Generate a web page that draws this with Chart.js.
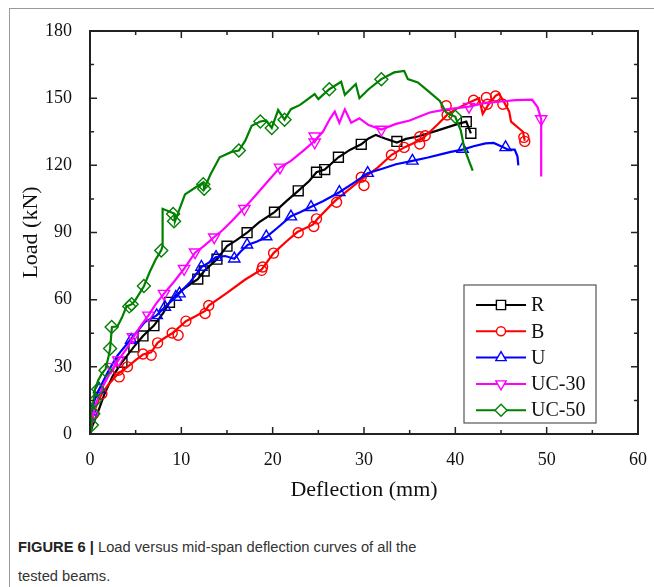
<!DOCTYPE html>
<html>
<head>
<meta charset="utf-8">
<script src="https://cdn.jsdelivr.net/npm/chart.js@4.4.0/dist/chart.umd.min.js"></script>
<style>
  body { margin: 0; background: #fff; }
  #page { position: relative; width: 654px; height: 587px; overflow: hidden; }
  #frame { position: absolute; left: 9px; top: 8px; width: 660px; height: 600px; border-top: 1px solid #999; border-left: 1px solid #999; }
  #wrap { position: absolute; left: 0; top: 0; }
  #caption { position: absolute; left: 18px; top: 533px; font-family: "Liberation Sans", Arial, sans-serif; font-size: 14.7px; line-height: 29px; color: #333; }
  #caption b { color: #222; }
</style>
</head>
<body>
<div id="page">
  <div id="frame"></div>
  <div id="wrap"><canvas id="loadChart" width="654" height="520"></canvas></div>
  <div id="caption"><b>FIGURE 6 |</b> Load versus mid-span deflection curves of all the<br>tested beams.</div>
</div>
<script>
// series names (legend order)
const seriesNames = ['R', 'B', 'U', 'UC-30', 'UC-50'];

// deflection (mm), load (kN)
const rLine = [[0,0],[0.3,4],[0.8,9],[1.6,18],[2.5,26],[3.5,32],[4.8,38.9],[5.8,43.8],[7.0,48.4],[8.0,54],[8.7,58.8],[10.0,64],[11.0,67],[11.8,69.2],[12.5,72.8],[13.9,78.1],[15.0,83.9],[16.0,86.5],[17.2,89.9],[18.5,94.5],[20.2,99.1],[21.5,104],[22.8,108.6],[24.0,113],[24.8,116.9],[25.7,118.1],[27.2,123.6],[28.5,127],[29.7,129.4],[30.5,132],[31.3,133.6],[32.3,132],[33.6,130.2],[34.6,131.8],[36,133],[38,135.5],[40.3,138.5],[41.2,139.5],[41.7,134.3]];
const rMarks = [[3.5,32],[4.8,38.9],[5.8,43.8],[7.0,48.4],[8.7,58.8],[11.8,69.2],[12.5,72.8],[13.9,78.1],[15.0,83.9],[17.2,89.9],[20.2,99.1],[22.8,108.6],[24.8,116.9],[25.7,118.1],[27.2,123.6],[29.7,129.4],[33.6,130.7],[41.2,139.5],[41.7,134.3]];

const bLine = [[0,0],[0.2,5],[0.4,9],[0.8,14],[1.3,18],[2,22],[3.1,27],[4.1,30],[5,33],[5.8,35.5],[6.7,36.5],[7.4,40.7],[8.2,43],[9,45],[10.5,50.4],[11.5,52.5],[12.6,55],[13,57.4],[15,63],[17,69],[18.8,73.5],[20.1,80.8],[21.5,86],[22.7,90.2],[24.4,93.5],[24.9,96],[26.8,104],[28,108],[29.5,113],[30,114.5],[31.5,119],[33,124.6],[34.4,128],[36,131],[36.7,133],[38,138],[39.1,142.5],[40,145],[41,147],[42,149],[42.6,150],[43,143],[43.6,147],[44.4,151],[44.8,152],[45.5,147],[45.9,144],[46.1,139.5],[47.4,135],[47.6,131]];
const bMarks = [[0.4,9],[1.3,18],[3.1,28.5],[3.2,25.5],[4.1,30],[5.8,35.7],[6.7,35.2],[7.4,40.7],[9.0,45.1],[9.65,44.1],[10.5,50.4],[12.6,53.8],[13.0,57.4],[18.8,73.1],[18.9,74.6],[20.1,80.8],[22.8,89.9],[24.5,92.7],[24.8,96.1],[27.0,103.5],[29.7,114.7],[30.0,111],[33.0,124.6],[34.4,128],[36.1,129.5],[36.1,132.8],[36.7,133.2],[39.1,142.5],[39.0,146.6],[42.0,149.1],[43.4,150.3],[43.5,147.3],[44.4,151],[45.2,147.3],[47.5,132.5],[47.6,130.7]];

const uLine = [[0,0],[0.1,5],[0.2,10],[0.5,15],[1,20],[2,28],[3,35],[4,40],[5,45],[6,50],[7.3,53],[8.2,56.7],[9.4,61.2],[9.8,63],[11,68],[12.2,74.6],[13,76.5],[13.8,79],[14.8,79.5],[15.8,78.3],[16.5,81.5],[17.3,84.5],[18.3,86],[19.3,88],[20.5,92],[22,97.3],[23,99],[24.1,101.3],[25.5,104],[27.3,108],[29,112.5],[30.4,116.5],[32,118.5],[33.5,120.5],[35.3,122],[37,123.5],[38.5,125],[39.5,126],[40.8,127],[42,128.5],[43.3,129.8],[44.2,130],[45,128.5],[45.8,127],[46.5,127],[46.8,124],[46.9,120]];
const uMarks = [[0.2,10],[1.0,20],[4.5,42],[7.3,53],[8.2,56.7],[9.4,61.2],[9.8,62.7],[12.2,74.6],[13.8,79],[15.8,78.3],[17.2,84.5],[19.3,88.2],[22.0,97.1],[24.2,101.3],[27.3,108],[30.4,116.5],[35.3,122],[40.8,127.3],[45.5,128]];

const uc30Line = [[0,0],[0.3,8],[0.7,14],[1.5,22],[2.3,28],[3.1,33],[4,38],[4.7,43],[5.5,48],[6.4,53],[7.2,58],[8.1,62.7],[9.2,68],[10.3,73.8],[11.5,81],[12.5,84],[13.6,88],[14.5,91],[15.5,95],[16.9,101],[18,106],[19.5,113],[20.8,119],[22,122],[23.5,127],[24.6,131],[25.5,135],[26.3,141],[26.8,144],[27.3,139],[27.9,145],[28.6,139],[29.5,141],[30.5,138],[31.9,136],[33.5,138.5],[35,140],[37.2,143.6],[39,145],[41.5,146.2],[43,147.7],[45,148.5],[46.6,149.1],[48.4,149.3],[49.0,146],[49.4,140.7],[49.4,115]];
const uc30Marks = [[0.3,8],[2.3,30],[3.1,33],[4.7,43.4],[6.4,53],[8.1,62.7],[10.3,73.8],[11.5,81.2],[13.6,87.9],[16.9,100.6],[20.8,119.1],[24.6,130.3],[24.6,133],[31.9,136],[41.5,146.2],[49.4,140.7]];

const uc50Line = [[0,0],[0.2,4],[0.1,9],[0.4,15],[0.55,20],[0.9,24],[1.3,27],[1.7,29],[2.0,34],[2.2,38],[2.4,47.8],[3.0,48],[3.5,52],[4.0,57],[4.6,58],[5.0,60],[5.9,66],[6.5,72],[7.2,78],[7.8,82],[7.95,84],[7.95,100.6],[9.2,98.5],[9.3,95],[10.4,107],[11.5,110],[12.4,112.4],[12.5,109.5],[13.2,116],[14.2,123.6],[15.5,126],[16.3,126.6],[17.0,131],[17.7,137.7],[18.65,139.6],[19.3,140],[19.9,136.7],[20.6,144.7],[21.3,140.4],[22.0,145.1],[23,147],[24.6,151.8],[25,149.6],[26.2,154],[27.5,157.3],[27.9,151.5],[29.1,156.3],[29.5,150],[30.5,154],[31.9,158.5],[33.3,161.5],[34.4,162.2],[34.8,158.5],[35.9,157],[37.2,152.6],[38.3,148.8],[39,143.6],[40,141.7],[40.6,135.5],[41,127.3],[41.9,117.6]];
const uc50Marks = [[0.2,4],[0.36,9],[0.55,15],[0.9,20],[1.7,28.5],[2.2,38.2],[2.37,47.8],[4.3,57],[4.56,58],[5.9,66.1],[7.8,82],[9.1,98.3],[9.2,95],[12.4,111.5],[12.5,109.5],[16.3,126.6],[18.65,139.6],[19.9,136.7],[21.3,140.4],[26.2,154],[31.9,158.5],[40.0,141.7]];

const xTicks = [0, 10, 20, 30, 40, 50, 60];
const yTicks = [0, 30, 60, 90, 120, 150, 180];

const lines = [rLine, bLine, uLine, uc30Line, uc50Line];
const marks = [rMarks, bMarks, uMarks, uc30Marks, uc50Marks];
const colors = ['#000000', '#ff0000', '#0000ff', '#ff00ff', '#008000'];
const shapes = ['rect', 'circle', 'triangle', 'triangle', 'rectRot'];
const rotations = [0, 0, 0, 180, 0];
const radii = [7, 5, 6.5, 6.5, 6.5];

const toXY = arr => arr.map(p => ({ x: p[0], y: p[1] }));

const datasets = [];
seriesNames.forEach((name, i) => {
    datasets.push({
        label: name,
        data: toXY(lines[i]),
        showLine: true,
        borderColor: colors[i],
        borderWidth: 2.2,
        pointRadius: 0,
        tension: 0,
        order: 20 - i * 2
    });
    datasets.push({
        label: name + ' marks',
        data: toXY(marks[i]),
        showLine: false,
        borderColor: colors[i],
        backgroundColor: 'rgba(255,255,255,0)',
        borderWidth: 1.4,
        pointStyle: shapes[i],
        rotation: rotations[i],
        pointRadius: radii[i],
        order: 19 - i * 2
    });
});

// frame with inward ticks on all four sides
const framePlugin = {
    id: 'frame',
    afterDatasetsDraw(chart) {
        const { ctx, chartArea: a, scales } = chart;
        ctx.save();
        ctx.strokeStyle = '#222';
        ctx.lineWidth = 2;
        ctx.strokeRect(a.left, a.top, a.right - a.left, a.bottom - a.top);
        ctx.lineWidth = 1.5;
        ctx.beginPath();
        for (let v = 0; v <= 60; v += 5) {
            const px = scales.x.getPixelForValue(v);
            const len = v % 10 === 0 ? 7 : 4;
            ctx.moveTo(px, a.bottom); ctx.lineTo(px, a.bottom - len);
            ctx.moveTo(px, a.top); ctx.lineTo(px, a.top + len);
        }
        for (let v = 0; v <= 180; v += 15) {
            const py = scales.y.getPixelForValue(v);
            const len = v % 30 === 0 ? 7 : 4;
            ctx.moveTo(a.left, py); ctx.lineTo(a.left + len, py);
            ctx.moveTo(a.right, py); ctx.lineTo(a.right - len, py);
        }
        ctx.stroke();

        // legend box
        const bx = 464, by = 285, bw = 132, bh = 138;
        ctx.fillStyle = '#fff';
        ctx.fillRect(bx, by, bw, bh);
        ctx.strokeStyle = '#555';
        ctx.lineWidth = 1.2;
        ctx.strokeRect(bx, by, bw, bh);
        ctx.font = '20px "Liberation Serif", "Times New Roman", serif';
        ctx.textBaseline = 'middle';
        seriesNames.forEach((name, i) => {
            const y = by + 20 + i * 26.3;
            ctx.strokeStyle = colors[i];
            ctx.lineWidth = 2;
            ctx.beginPath();
            ctx.moveTo(476, y); ctx.lineTo(526, y);
            ctx.stroke();
            ctx.fillStyle = '#fff';
            ctx.lineWidth = 1.4;
            Chart.helpers.drawPoint(ctx, { pointStyle: shapes[i], rotation: rotations[i], radius: radii[i] - 0.5, borderWidth: 1.4 }, 501, y);
            ctx.fillStyle = '#111';
            ctx.fillText(name, 531, y + 1);
        });
        ctx.restore();
    }
};

const serif = '"Liberation Serif", "Times New Roman", serif';

new Chart(document.getElementById('loadChart').getContext('2d'), {
    type: 'scatter',
    data: { datasets: datasets },
    options: {
        responsive: false,
        animation: false,
        layout: { padding: { top: 31, right: 14, left: 0, bottom: 10 } },
        plugins: {
            legend: { display: false },
            tooltip: { enabled: false }
        },
        scales: {
            x: {
                type: 'linear',
                min: 0, max: 60,
                afterBuildTicks: s => { s.ticks = xTicks.map(v => ({ value: v })); },
                ticks: { color: '#111', padding: 7, font: { family: serif, size: 18 } },
                grid: { display: false },
                border: { display: false },
                title: { display: true, text: 'Deflection (mm)', color: '#111', font: { family: serif, size: 22 }, padding: { top: 0, bottom: 7 } },
                afterFit: s => { s.height = 76; }
            },
            y: {
                type: 'linear',
                min: 0, max: 180,
                afterBuildTicks: s => { s.ticks = yTicks.map(v => ({ value: v })); },
                ticks: { color: '#111', padding: 10, font: { family: serif, size: 18 } },
                grid: { display: false },
                border: { display: false },
                title: { display: true, text: 'Load (kN)', color: '#111', font: { family: serif, size: 22 }, padding: { top: 18, bottom: 0 } },
                afterFit: s => { s.width = 90; }
            }
        }
    },
    plugins: [framePlugin]
});
</script>
</body>
</html>
